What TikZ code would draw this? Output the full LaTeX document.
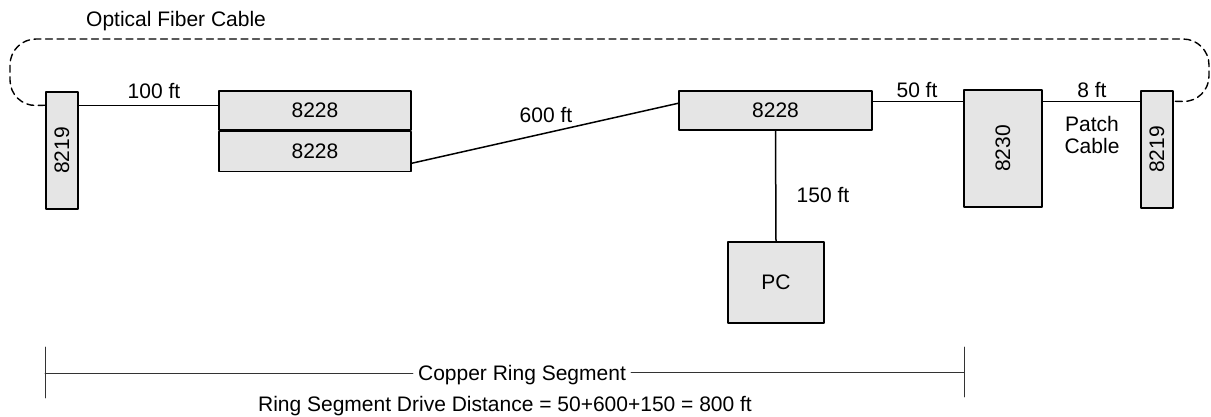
\documentclass[tikz,border=0pt]{standalone}
\usepackage{fontspec}
\setmainfont{Liberation Sans}
\usetikzlibrary{calc}

\begin{document}
\begin{tikzpicture}[x=1pt, y=-1pt, line cap=round, line join=round,
  every node/.style={font=\fontsize{21}{22}\selectfont, inner sep=0pt},
  unitbox/.style={draw, line width=1.5pt, fill=gray!20},
  cable/.style={line width=1.5pt},
  fiber/.style={line width=1.4pt, dash pattern=on 7pt off 4.5pt, rounded corners=26pt},
  span/.style={line width=0.9pt, draw=black!80}]
  \useasboundingbox (0,0) rectangle (1211,416);
  % The units on the ring, placed at their coordinates.
  \node[unitbox, minimum width=32pt, minimum height=117pt] (L8219) at (62,150.5) {\rotatebox{90}{8219}};
  \node[unitbox, minimum width=192pt, minimum height=39pt] (A8228) at (315,110.5) {8228};
  \node[unitbox, minimum width=192pt, minimum height=40pt, anchor=north] (B8228) at (A8228.south) {8228};
  \node[unitbox, minimum width=193pt, minimum height=39pt] (C8228) at (775.5,110.5) {8228};
  \node[unitbox, minimum width=96pt, minimum height=81pt] (PC) at (776,282.5) {PC};
  \node[unitbox, minimum width=78pt, minimum height=117pt] (N8230) at (1003,148.5) {\rotatebox{90}{8230}};
  \node[unitbox, minimum width=32pt, minimum height=117pt] (R8219) at (1157,149.5) {\rotatebox{90}{8219}};
  % Copper runs between them.
  \draw[cable] ([yshift=-14pt]L8219.north east) -- ([yshift=-14pt]L8219.north east -| A8228.west);
  \draw[cable] ([yshift=9pt]B8228.south east) -- ([yshift=-13pt]C8228.north west);
  \draw[cable] ([yshift=-11pt]C8228.north east) -- ([yshift=-11pt]C8228.north east -| N8230.west);
  \draw[cable] ([yshift=-12pt]N8230.north east) -- ([yshift=-12pt]N8230.north east -| R8219.west);
  \draw[cable] (C8228.south) -- (PC.north);
  % The fibre loop back over the top.
  \draw[fiber] ([yshift=-14pt]L8219.north west) -- (10,106) -- (10,39) -- (1209,39)
    -- (1209,102) -- ([yshift=-11pt]R8219.north east);
  \node[anchor=base west] (fibertext) at (86,26) {Optical Fiber Cable};
  % Lengths.
  \node (len100) at (154,91) {100 ft};
  \node (len600) at (546,115) {600 ft};
  \node (len50) at (917,90) {50 ft};
  \node (len8) at (1092,90) {8 ft};
  \node[align=center] (patch) at (1092,135) {Patch\\Cable};
  \node (len150) at (823,195) {150 ft};
  % Copper segment span and its total.
  \coordinate (segL) at (45,373);
  \coordinate (segR) at (964,372);
  \node[anchor=base, inner xsep=5pt] (copper) at (522,380) {Copper Ring Segment};
  \draw[span] ([yshift=26pt]segL) -- ([yshift=-25pt]segL);
  \draw[span] ([yshift=25pt]segR) -- ([yshift=-25pt]segR);
  \draw[span] (segL) -- (segL -| copper.west);
  \draw[span] (copper.east |- segR) -- (segR);
  \node[anchor=base] (drive) at (505,411) {Ring Segment Drive Distance = 50+600+150 = 800 ft};
\end{tikzpicture}
\end{document}
